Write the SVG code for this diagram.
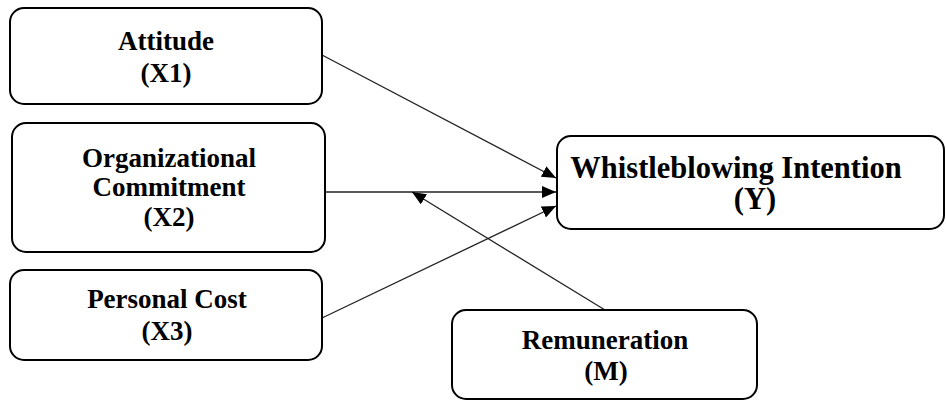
<svg xmlns="http://www.w3.org/2000/svg" width="946" height="401" viewBox="0 0 946 401">
<style>
.box{fill:#fff;stroke:#000;stroke-width:2}
text{font-family:'Liberation Serif','Times New Roman','DejaVu Serif',serif;font-weight:bold;font-size:27px;fill:#000;text-anchor:middle}
.ty{font-size:30.5px}
.c{stroke:#222;stroke-width:1.3;fill:none}
</style>
<defs>
<marker id="ah" markerWidth="14" markerHeight="12" refX="14" refY="6" orient="auto" markerUnits="userSpaceOnUse">
<path d="M0,0 L14,6 L0,12 Z" fill="#000"/>
</marker>
</defs>
<g id="connectors">
<line class="c" x1="322" y1="55" x2="556" y2="178" marker-end="url(#ah)"/>
<line class="c" x1="325" y1="192" x2="556" y2="192" marker-end="url(#ah)"/>
<line class="c" x1="322" y1="318" x2="556" y2="206" marker-end="url(#ah)"/>
<line class="c" x1="605" y1="310" x2="412" y2="192" marker-end="url(#ah)"/>
</g>
<g id="x1">
<rect class="box" x="10" y="8" width="312" height="96" rx="14"/>
<text x="166" y="50">Attitude</text>
<text x="166" y="82">(X1)</text>
</g>
<g id="x2">
<rect class="box" x="12" y="123" width="313" height="129" rx="14"/>
<text x="169" y="167">Organizational</text>
<text x="169" y="196">Commitment</text>
<text x="169" y="226">(X2)</text>
</g>
<g id="x3">
<rect class="box" x="10" y="270" width="312" height="90" rx="14"/>
<text x="167" y="308">Personal Cost</text>
<text x="167" y="340">(X3)</text>
</g>
<g id="y">
<rect class="box" x="557" y="136" width="387" height="93" rx="14"/>
<text class="ty" x="736" y="178">Whistleblowing Intention</text>
<text class="ty" x="755" y="209">(Y)</text>
</g>
<g id="m">
<rect class="box" x="452" y="310" width="305" height="89" rx="14"/>
<text x="605" y="349">Remuneration</text>
<text x="606" y="380">(M)</text>
</g>
</svg>
